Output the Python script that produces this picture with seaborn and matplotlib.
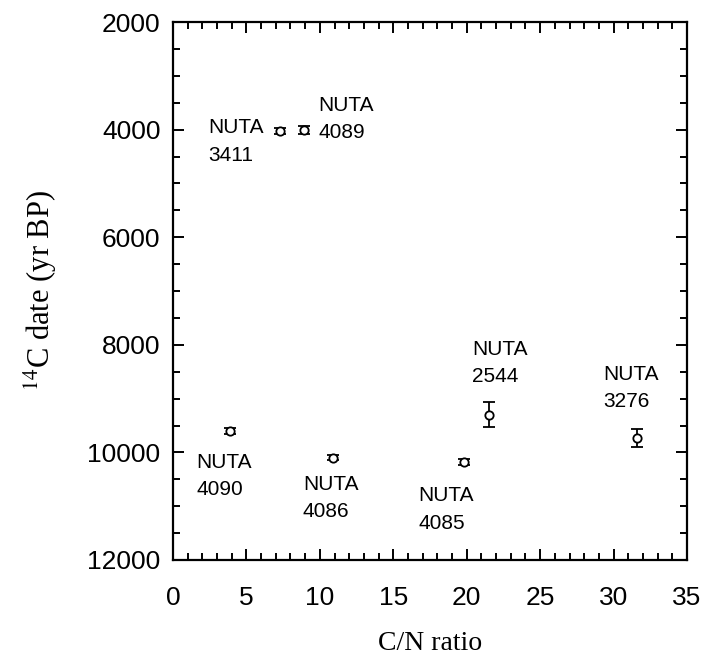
import numpy as np
import matplotlib
matplotlib.use("Agg")
import matplotlib.pyplot as plt
from matplotlib.ticker import MultipleLocator
import seaborn as sns
import pandas as pd

# C/N ratio vs radiocarbon age, NUTA samples
samples = ["3411", "4089", "4090", "4086", "4085", "2544", "3276"]
cn_ratio = [7.3, 8.9, 3.9, 10.9, 19.8, 21.5, 31.6]
c14_age = [4030, 4010, 9600, 10100, 10180, 9300, 9730]
age_err = [60, 70, 60, 50, 50, 230, 170]

# where each sample label sits (x left edge, y middle)
label_x = [2.4, 9.9, 1.6, 8.85, 16.7, 20.35, 29.3]
label_y = [4220, 3800, 10440, 10850, 11060, 8340, 8800]

df = pd.DataFrame({"cn": cn_ratio, "age": c14_age, "err": age_err, "id": samples})

sns.set_style("ticks")
plt.rcParams["font.family"] = ["Liberation Sans", "DejaVu Sans"]
plt.rcParams["mathtext.fontset"] = "stix"
plt.rcParams["text.color"] = "black"
plt.rcParams["axes.labelcolor"] = "black"
plt.rcParams["xtick.color"] = "black"
plt.rcParams["ytick.color"] = "black"
plt.rcParams["axes.edgecolor"] = "black"

fig = plt.figure(figsize=(7.04, 6.61), dpi=100)
ax = fig.add_axes([0.2457, 0.1528, 0.7302, 0.8139])

ax.errorbar(df["cn"], df["age"], yerr=df["err"], fmt="none", ecolor="black",
            elinewidth=1.3, capsize=4.5, capthick=1.3, zorder=2)
sns.scatterplot(data=df, x="cn", y="age", ax=ax, marker="o", s=36,
                facecolor="white", edgecolor="black", linewidth=1.3, zorder=3)

for i in range(len(samples)):
    ax.text(label_x[i], label_y[i], "NUTA\n" + samples[i], ha="left", va="center",
            fontsize=15, linespacing=1.55, color="black")

ax.set_xlim(0, 35)
ax.set_ylim(12000, 2000)
ax.xaxis.set_major_locator(MultipleLocator(5))
ax.xaxis.set_minor_locator(MultipleLocator(1))
ax.yaxis.set_major_locator(MultipleLocator(2000))
ax.yaxis.set_minor_locator(MultipleLocator(500))
ax.tick_params(which="both", direction="in", top=True, right=True, width=1.4,
               labelsize=19)
ax.tick_params(which="major", length=8)
ax.tick_params(which="minor", length=5)
ax.tick_params(axis="x", which="major", pad=19)
ax.tick_params(axis="y", which="major", pad=9)
for s in ax.spines.values():
    s.set_linewidth(1.6)

ax.set_xlabel("C/N ratio", family="Liberation Serif", fontsize=20, labelpad=15)
ax.set_ylabel(r"$^{14}$C date (yr BP)", family="Liberation Serif", fontsize=22,
              labelpad=20)

fig.savefig("out.png", dpi=100, facecolor="white")
